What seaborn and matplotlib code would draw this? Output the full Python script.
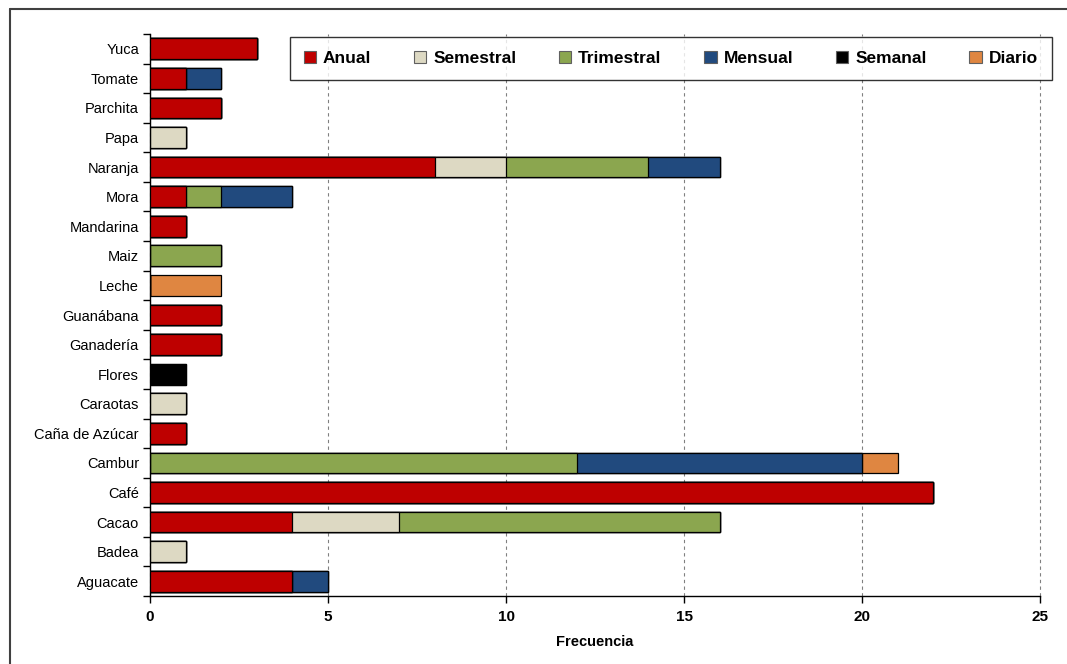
import matplotlib
matplotlib.use('Agg')
import matplotlib.pyplot as plt
from matplotlib.patches import Patch
from matplotlib.lines import Line2D
import numpy as np
import pandas as pd
import seaborn as sns

# categories top to bottom
cultivos = ['Yuca', 'Tomate', 'Parchita', 'Papa', 'Naranja', 'Mora', 'Mandarina',
            'Maiz', 'Leche', 'Guanábana', 'Ganadería', 'Flores', 'Caraotas',
            'Caña de Azúcar', 'Cambur', 'Café', 'Cacao', 'Badea', 'Aguacate']

anual      = [3, 1, 2, 0, 8, 1, 1, 0, 0, 2, 2, 0, 0, 1, 0, 22, 4, 0, 4]
semestral  = [0, 0, 0, 1, 2, 0, 0, 0, 0, 0, 0, 0, 1, 0, 0, 0, 3, 1, 0]
trimestral = [0, 0, 0, 0, 4, 1, 0, 2, 0, 0, 0, 0, 0, 0, 12, 0, 9, 0, 0]
mensual    = [0, 1, 0, 0, 2, 2, 0, 0, 0, 0, 0, 0, 0, 0, 8, 0, 0, 0, 1]
semanal    = [0, 0, 0, 0, 0, 0, 0, 0, 0, 0, 0, 1, 0, 0, 0, 0, 0, 0, 0]
diario     = [0, 0, 0, 0, 0, 0, 0, 0, 2, 0, 0, 0, 0, 0, 1, 0, 0, 0, 0]

series = ['Anual', 'Semestral', 'Trimestral', 'Mensual', 'Semanal', 'Diario']
colores = ['#BE0000', '#DDD9C3', '#8BA64F', '#214A7E', '#000000', '#DF8641']

df = pd.DataFrame({'cultivo': cultivos, 'Anual': anual, 'Semestral': semestral,
                   'Trimestral': trimestral, 'Mensual': mensual,
                   'Semanal': semanal, 'Diario': diario})
cum = df[series].cumsum(axis=1)

sns.set_theme(style='white')
plt.rcParams['font.family'] = ['Liberation Sans', 'DejaVu Sans']
plt.rcParams['text.color'] = 'black'
plt.rcParams['xtick.color'] = 'black'
plt.rcParams['ytick.color'] = 'black'
plt.rcParams['axes.labelcolor'] = 'black'

fig = plt.figure(figsize=(10.67, 6.64), dpi=100)
ax = fig.add_axes([0.1406, 0.1024, 0.8341, 0.8464])

# stacked bars: draw cumulative totals from the last series backwards
for s, c in reversed(list(zip(series, colores))):
    sns.barplot(x=cum[s], y=df['cultivo'], orient='h', color=c, saturation=1,
                width=0.7, edgecolor='black', linewidth=0.9, ax=ax, zorder=3)

ax.set_xlim(0, 25)
ax.set_ylim(len(cultivos) - 0.5, -0.5)
ax.set_xticks([0, 5, 10, 15, 20, 25])
ax.set_xticklabels(['0', '5', '10', '15', '20', '25'], fontsize=11, fontweight='bold')
ax.tick_params(axis='x', direction='out', length=5, width=1, color='black', bottom=True, pad=5)
ax.tick_params(axis='y', which='major', length=0, labelsize=10.5, pad=8)
ax.set_yticks(np.arange(-0.5, len(cultivos), 1), minor=True)
ax.tick_params(axis='y', which='minor', direction='out', length=5, width=1, color='black', left=True)
ax.set_ylabel('')
ax.set_xlabel('Frecuencia', fontsize=10.5, fontweight='bold', labelpad=8)
ax.xaxis.grid(True, linestyle=(0, (3, 3)), color='#808080', linewidth=0.8, zorder=0)
ax.yaxis.grid(False)
ax.set_axisbelow(True)
for gl in ax.get_xgridlines():
    gl.set_clip_on(False)

for side in ['top', 'right']:
    ax.spines[side].set_visible(False)
for side in ['left', 'bottom']:
    ax.spines[side].set_color('black')
    ax.spines[side].set_linewidth(1)

handles = [Patch(facecolor=c, edgecolor='#606060', linewidth=0.8, label=s)
           for s, c in zip(series, colores)]
leg = ax.legend(handles=handles, ncol=6, loc='lower left',
                bbox_to_anchor=(0.157, 0.918, 0.856, 0.071), mode='expand',
                frameon=True, fancybox=False, shadow=False,
                prop={'weight': 'bold', 'size': 12.5},
                handlelength=0.7, handleheight=0.7, handletextpad=0.4,
                borderaxespad=0, borderpad=0.8)
leg.get_frame().set_edgecolor('black')
leg.get_frame().set_linewidth(1)
leg.set_zorder(5)

# outer chart border (top and left visible)
fig.add_artist(Line2D([10 / 1067, 10 / 1067], [0, 1 - 9 / 664], color='#404040', linewidth=1.5))
fig.add_artist(Line2D([10 / 1067, 1], [1 - 9 / 664, 1 - 9 / 664], color='#404040', linewidth=1.5))

fig.savefig('out.png', dpi=100)
